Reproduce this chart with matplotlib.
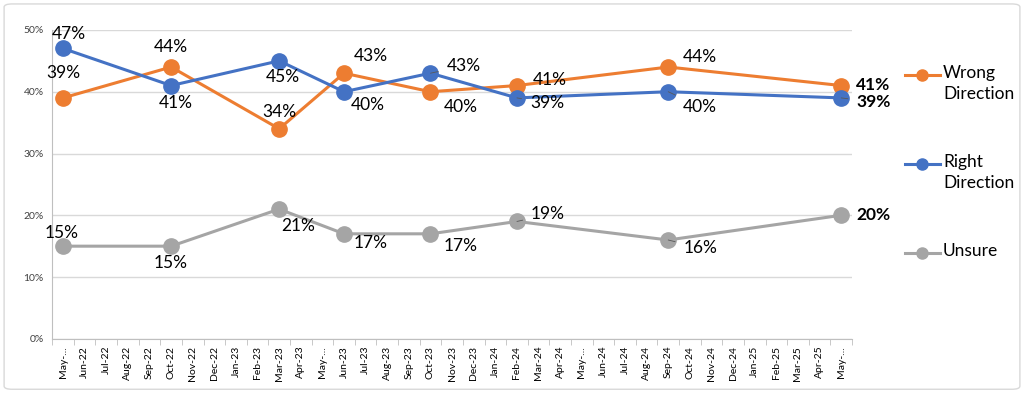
import numpy as np
import matplotlib
matplotlib.use("Agg")
import matplotlib.pyplot as plt
from matplotlib.patches import FancyBboxPatch
from matplotlib.lines import Line2D

plt.rcParams['font.family'] = ['Lato', 'DejaVu Sans']

# month axis May-22 .. May-25
months = ['May-22', 'Jun-22', 'Jul-22', 'Aug-22', 'Sep-22', 'Oct-22', 'Nov-22', 'Dec-22',
          'Jan-23', 'Feb-23', 'Mar-23', 'Apr-23', 'May-23', 'Jun-23', 'Jul-23', 'Aug-23',
          'Sep-23', 'Oct-23', 'Nov-23', 'Dec-23', 'Jan-24', 'Feb-24', 'Mar-24', 'Apr-24',
          'May-24', 'Jun-24', 'Jul-24', 'Aug-24', 'Sep-24', 'Oct-24', 'Nov-24', 'Dec-24',
          'Jan-25', 'Feb-25', 'Mar-25', 'Apr-25', 'May-25']
tick_labels = ['May-...' if m.startswith('May') else m for m in months]

survey_months = ['May-22', 'Oct-22', 'Mar-23', 'Jun-23', 'Oct-23', 'Feb-24', 'Sep-24', 'May-25']
wrong = [39, 44, 34, 43, 40, 41, 44, 41]
right = [47, 41, 45, 40, 43, 39, 40, 39]
unsure = [15, 15, 21, 17, 17, 19, 16, 20]

# label offsets in pixels (dx, dy), plus leader line flag
wrong_off = [(0, 25), (0, 20), (0, 17), (27, 17), (30, -15), (33, 6), (32, 10), (15, 1)]
right_off = [(6, 14), (5, -17), (4, -16), (24, -13), (33, 7), (30, -5), (32, -15), (15, -4)]
unsure_off = [(-1, 13), (0, -17), (19, -17), (27, -9), (30, -12), (31, 7), (32, -8), (15, 0)]
right_lead = [False, False, False, False, True, True, True, True]
unsure_lead = [False, False, False, False, False, True, True, False]

c_wrong = '#ED7D31'
c_right = '#4472C4'
c_unsure = '#A5A5A5'

fig = plt.figure(figsize=(10.24, 3.94), dpi=100)
ax = fig.add_axes([0.051, 0.140, 0.781, 0.784])

xs = [months.index(m) for m in survey_months]

def draw(vals, color, offs, leads):
    ax.plot(xs, vals, color=color, lw=2.2, marker='o', ms=11, zorder=3)
    for i, (x, v) in enumerate(zip(xs, vals)):
        dx, dy = offs[i]
        last = i == len(vals) - 1
        kw = {}
        if leads[i]:
            kw['arrowprops'] = dict(arrowstyle='-', color='#595959', lw=0.6,
                                    shrinkA=4, shrinkB=6)
        ax.annotate(f'{v}%', (x, v), xytext=(dx, dy), textcoords='offset pixels',
                    ha='left' if last else 'center', va='center', fontsize=12.5,
                    fontweight='bold' if last else 'normal', color='black', zorder=4, **kw)

draw(wrong, c_wrong, wrong_off, [False] * 8)
draw(right, c_right, right_off, right_lead)
draw(unsure, c_unsure, unsure_off, unsure_lead)

ax.set_xlim(-0.5, len(months) - 0.5)
ax.set_ylim(0, 50)
ax.set_yticks(np.arange(0, 51, 10))
ax.set_yticklabels([f'{t}%' for t in range(0, 51, 10)], fontsize=7.5, color='#404040')
ax.set_xticks(range(len(months)))
ax.set_xticklabels(tick_labels, rotation=90, fontsize=7.5, color='black')
ax.set_xticks(np.arange(-0.5, len(months), 1), minor=True)
ax.tick_params(axis='x', which='major', length=0, pad=5)
ax.tick_params(axis='x', which='minor', length=4, color='#BFBFBF', direction='out')
ax.tick_params(axis='y', length=0, pad=6)
ax.grid(axis='y', color='#D9D9D9', lw=1)
ax.set_axisbelow(True)
for s in ['top', 'right']:
    ax.spines[s].set_visible(False)
ax.spines['left'].set_color('#BFBFBF')
ax.spines['bottom'].set_color('#BFBFBF')

# legend drawn at the right
entries = [('Wrong\nDirection', c_wrong), ('Right\nDirection', c_right), ('Unsure', c_unsure)]
H = 394.0
for i, (txt, col) in enumerate(entries):
    y = 1 - (75 + 89 * i) / H
    fig.add_artist(Line2D([905 / 1024, 940 / 1024], [y, y], color=col, lw=2.2,
                          transform=fig.transFigure))
    fig.add_artist(Line2D([922 / 1024], [y], color=col, marker='o', ms=8,
                          transform=fig.transFigure))
    fig.text(943 / 1024, y + 10 / H, txt, ha='left', va='top', fontsize=12.5,
             linespacing=1.35, color='black')

border = FancyBboxPatch((0.004, 0.012), 0.992, 0.978, boxstyle='round,pad=0,rounding_size=0.008',
                        transform=fig.transFigure, facecolor='none', edgecolor='#D9D9D9', lw=1)
fig.add_artist(border)

fig.savefig('out.png', dpi=100)
